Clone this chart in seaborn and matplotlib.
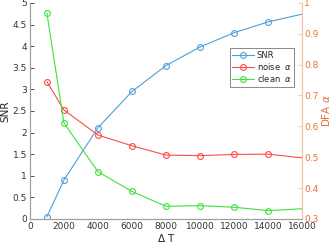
import matplotlib
matplotlib.use("Agg")
import matplotlib.pyplot as plt
import pandas as pd
import seaborn as sns

# 데이터
delta_t = [1000, 2000, 4000, 6000, 8000, 10000, 12000, 14000, 16000]
snr = [0.05, 0.90, 2.11, 2.95, 3.55, 3.98, 4.31, 4.56, 4.74]
noise_alpha = [0.745, 0.653, 0.572, 0.537, 0.507, 0.505, 0.509, 0.510, 0.498]
clean_alpha = [0.967, 0.611, 0.453, 0.389, 0.341, 0.343, 0.338, 0.327, 0.333]

x_ticks = list(range(0, 16001, 2000))
snr_ticks = [0, 0.5, 1, 1.5, 2, 2.5, 3, 3.5, 4, 4.5, 5]
dfa_ticks = [0.3, 0.4, 0.5, 0.6, 0.7, 0.8, 0.9, 1]

sns.set_style("white")
plt.rcParams["font.family"] = ["DejaVu Sans"]

C_SNR = "#4f9fd9"
C_NOISE = "#ff4a4a"
C_CLEAN = "#3fe23f"
C_RIGHT = "#e8703a"
C_SPINE = "#f2c2a8"

df = pd.DataFrame({"dt": delta_t, "snr": snr, "noise": noise_alpha, "clean": clean_alpha})

fig = plt.figure(figsize=(3.32, 2.43), dpi=100)
ax = fig.add_axes([0.09, 0.099, 0.82, 0.889])
ax2 = ax.twinx()

# 마지막 점(16000)에는 마커가 보이지 않음
marker_idx = list(range(len(delta_t) - 1))
mk = dict(marker="o", markersize=4.2, markerfacecolor="none", markeredgewidth=0.8,
          markevery=marker_idx, linewidth=0.8)

sns.lineplot(data=df, x="dt", y="snr", ax=ax, color=C_SNR, markeredgecolor=C_SNR, label="SNR", **mk)
sns.lineplot(data=df, x="dt", y="noise", ax=ax2, color=C_NOISE, markeredgecolor=C_NOISE, label="noise  $\\alpha$", **mk)
sns.lineplot(data=df, x="dt", y="clean", ax=ax2, color=C_CLEAN, markeredgecolor=C_CLEAN, label="clean  $\\alpha$", **mk)

ax.set_xlim(0, 16000)
ax.set_ylim(0, 5)
ax2.set_ylim(0.3, 1)
ax.set_xticks(x_ticks)
ax.set_yticks(snr_ticks)
ax.set_yticklabels([f"{t:g}" for t in snr_ticks])
ax2.set_yticks(dfa_ticks)
ax2.set_yticklabels([f"{t:g}" for t in dfa_ticks])

ax.set_xlabel("$\\Delta$ T", fontsize=7.5, labelpad=1)
ax.set_ylabel("SNR", fontsize=7.5, labelpad=2)
ax2.set_ylabel("DFA $\\alpha$", fontsize=7.5, color=C_RIGHT, labelpad=1)

for a in (ax, ax2):
    a.spines["top"].set_visible(False)
    a.spines["left"].set_color("#a0a0a0")
    a.spines["bottom"].set_color("#a0a0a0")
    a.spines["right"].set_color(C_SPINE)
    for s in a.spines.values():
        s.set_linewidth(0.8)

ax.tick_params(axis="both", direction="in", length=3, width=0.6, labelsize=6.5, colors="#333333", pad=2)
ax2.tick_params(axis="y", direction="in", length=3, width=0.6, labelsize=6.5, colors=C_RIGHT, pad=1.5)
ax2.tick_params(axis="y", color=C_SPINE)
ax.grid(False)
ax2.grid(False)

h1, l1 = ax.get_legend_handles_labels()
h2, l2 = ax2.get_legend_handles_labels()
if ax.get_legend():
    ax.get_legend().remove()
leg = ax2.legend(h1 + h2, l1 + l2, loc="upper left", bbox_to_anchor=(0.735, 0.79),
                 fontsize=6, frameon=True, fancybox=False, borderpad=0.3,
                 handlelength=2.6, handletextpad=0.3, labelspacing=0.15, borderaxespad=0)
leg.get_frame().set_edgecolor("#555555")
leg.get_frame().set_linewidth(0.6)

fig.savefig("out.png", dpi=100)
